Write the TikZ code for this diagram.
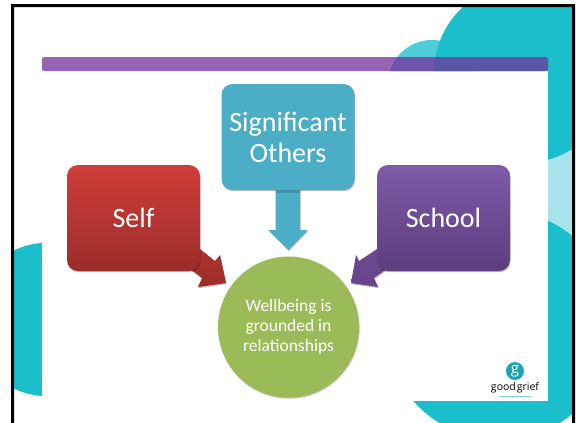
\documentclass[tikz,border=0pt]{standalone}
\usepackage{fontspec}
\setmainfont{Carlito}
\newfontfamily\logofont{Open Sans}
\usetikzlibrary{shadows,calc}
\definecolor{teal1}{HTML}{1BBFCC}
\definecolor{teal2}{HTML}{50CDD8}
\definecolor{teal3}{HTML}{A6E3EA}
\definecolor{barp}{HTML}{9564B5}
\definecolor{barm}{HTML}{6E55AB}
\definecolor{bard}{HTML}{5B55A6}
\definecolor{blueb}{HTML}{4BADC6}
\definecolor{greenb}{HTML}{9BBB59}
\definecolor{reda}{HTML}{B23431}
\definecolor{redb}{HTML}{9B2D2A}
\definecolor{purpa}{HTML}{6C4A94}
\definecolor{purpb}{HTML}{664488}
\definecolor{logoteal}{HTML}{1CA5B5}
\tikzset{
  softshadow/.style={drop shadow={shadow xshift=0.6pt,shadow yshift=-1.2pt,opacity=0.25,fill=black}},
  bigbox/.style={rounded corners=11pt,minimum width=133pt,minimum height=106pt,inner sep=0pt,text=white,align=center,font=\fontsize{28}{31}\selectfont,softshadow},
}
\begin{document}
\begin{tikzpicture}[x=1pt,y=-1pt]
\useasboundingbox (0,0) rectangle (579,423);
\fill[white] (0,0) rectangle (579,423);
% background shapes
\begin{scope}
\clip (14,7) rectangle (572,423);
\fill[teal3] (540,140) rectangle (572,245);
\fill[teal2] (432,84) circle[radius=44];
\fill[teal1] (524,73) circle[radius=90];
\fill[teal1] (499.5,325) circle[radius=115];
\fill[teal1] (47.5,319.5) circle[radius=76.7];
\fill[teal1] (548,60) rectangle (572,150);
\end{scope}
\fill[white] (42,71) rectangle (548,401);
% title bar
\fill[barp,rounded corners=2pt] (42,57) rectangle (548,71);
\begin{scope}
\clip (432,84) circle[radius=44];
\fill[barm,rounded corners=2pt] (42,57) rectangle (548,71);
\end{scope}
\begin{scope}
\clip (524,73) circle[radius=90];
\fill[bard,rounded corners=2pt] (42,57) rectangle (548,71);
\end{scope}
% frame
\fill[black] (11,423) -- (11,4) -- (575,4) -- (575,423) -- (572,423) -- (572,7) -- (14,7) -- (14,423) -- cycle;
% diagram nodes
\node[bigbox,name=others,fill=blueb] at (288,137) {Significant\\Others};
\coordinate (ltip) at (226,283);
\coordinate (rtip) at (351,283);
\coordinate (dtip) at (288.5,250);
% arrows
\fill[softshadow,fill=blueb] ($(others.south)+(-12.5,-2)$) -- ($(others.south)+(-12.5,40)$) -- ($(others.south)+(-19.5,40)$) -- (dtip) -- ($(others.south)+(19.5,40)$) -- ($(others.south)+(12,40)$) -- ($(others.south)+(12,-2)$) -- cycle;
\fill[black,opacity=0.15] ($(others.south)+(-12.5,0)$) rectangle ($(others.south)+(12,3)$);
\path[softshadow,top color=reda,bottom color=redb] (195,245) -- (215,261) -- (220,255) -- (ltip) -- (198,287) -- (202,278) -- (185,265) -- cycle;
\path[softshadow,top color=purpa,bottom color=purpb] (383,245) -- (359,261) -- (356,255) -- (rtip) -- (378,287) -- (374,278) -- (392,265) -- cycle;
\node[bigbox,name=self,top color={rgb,255:red,207;green,62;blue,58},bottom color={rgb,255:red,155;green,45;blue,42}] at (133.5,218) {Self};
\node[bigbox,name=school,top color={rgb,255:red,127;green,90;blue,168},bottom color={rgb,255:red,92;green,61;blue,126}] at (443.5,218) {School};
\node[circle,fill=greenb,minimum size=141pt,inner sep=0pt,text=white,align=center,font=\fontsize{17.5}{19.8}\selectfont,softshadow,name=well] at (288.5,327) {Wellbeing is\\grounded in\\relationships};
% logo
\fill[white] (492,360) rectangle (540,400);
\node[circle,fill=logoteal,minimum size=18pt,inner sep=0pt,text=white,font=\logofont\fontsize{15}{15}\selectfont,name=logo] at (515,371) {g};
\node[inner sep=0pt,font=\logofont\fontsize{10.5}{11}\selectfont,name=logotext] at (515,388) {good\hspace{1pt}grief};
\draw[logoteal!55,line width=1pt] (499,396) -- (532,396);
\end{tikzpicture}
\end{document}
